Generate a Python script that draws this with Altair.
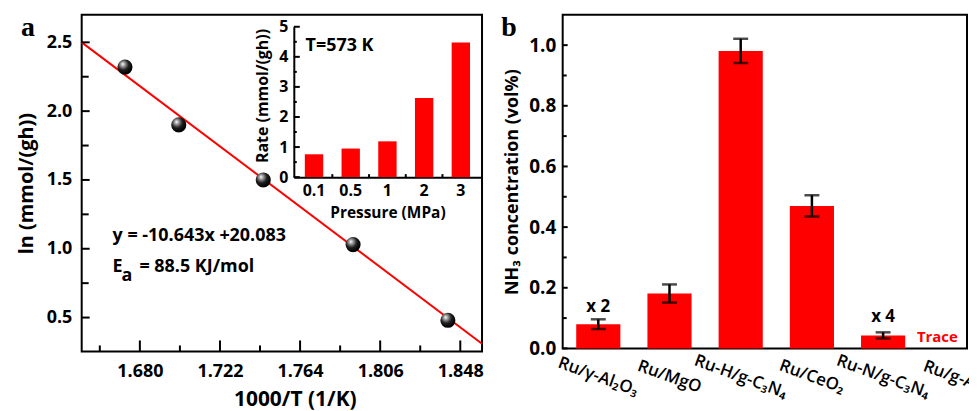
import altair as alt
import pandas as pd

# ---------------- Panel a: Arrhenius plot ----------------
inv_T = [1.6722, 1.7004, 1.7447, 1.7918, 1.8415]
ln_rate = [2.32, 1.90, 1.50, 1.03, 0.48]
fit_x = [1.6495, 1.8594]
fit_y = [2.50, 0.31]

x_major = [1.680, 1.722, 1.764, 1.806, 1.848]
x_minor = [1.659, 1.701, 1.743, 1.785, 1.827]
y_major = [0.5, 1.0, 1.5, 2.0, 2.5]
y_minor = [0.75, 1.25, 1.75, 2.25]

eq_label = ["y = -10.643x +20.083"]
ea_main = ["E"]
ea_sub = ["a"]
ea_rest = ["= 88.5 KJ/mol"]
temp_label = ["T=573 K"]

# inset
pressure = ["0.1", "0.5", "1", "2", "3"]
rate = [0.76, 0.95, 1.19, 2.63, 4.48]
inset_y_major = [0, 1, 2, 3, 4, 5]
inset_y_minor = [0.5, 1.5, 2.5, 3.5, 4.5]

# ---------------- Panel b: NH3 concentration ----------------
catalysts = ["Ru/γ-Al₂O₃", "Ru/MgO", "Ru-H/g-C₃N₄", "Ru/CeO₂", "Ru-N/g-C₃N₄", "Ru/g-AC"]
nh3 = [0.080, 0.181, 0.981, 0.470, 0.043]
nh3_err = [0.016, 0.030, 0.040, 0.035, 0.010]
b_y_major = [0.0, 0.2, 0.4, 0.6, 0.8, 1.0]
b_y_minor = [0.1, 0.3, 0.5, 0.7, 0.9]
mult_cats = ["Ru/γ-Al₂O₃", "Ru-N/g-C₃N₄"]
mult_y = [0.136, 0.103]
mult_text = ["x 2", "x 4"]
trace_cat = ["Ru/g-AC"]
trace_y = [0.037]
trace_text = ["Trace"]

FONT = "Open Sans"
RED = "#ff0000"
W1, H1 = 402, 338
W2, H2 = 406, 335

# ---------- main plot (a) ----------
xs = alt.Scale(domain=[1.6495, 1.8594], nice=False, zero=False)
ys = alt.Scale(domain=[0.254, 2.70], nice=False, zero=False)
ax_x = alt.Axis(values=x_major, format=".3f", title="1000/T (1/K)", ticks=False, tickSize=0,
                domain=False, grid=False, labelFontSize=18, labelFontWeight="bold",
                labelPadding=11, titleFontSize=21, titlePadding=8, titleX=214, labelFlush=False)
ax_y = alt.Axis(values=y_major, format=".1f", title="ln (mmol/(gh))", ticks=False, tickSize=0,
                domain=False, grid=False, labelFontSize=18, labelFontWeight="bold",
                labelPadding=10, titleFontSize=20, titlePadding=10)


def X(f):
    return alt.X(f, type="quantitative", scale=xs, axis=ax_x)


def Y(f):
    return alt.Y(f, type="quantitative", scale=ys, axis=ax_y)


grad = {"gradient": "radial", "x1": 0.35, "y1": 0.3, "x2": 0.4, "y2": 0.35, "r1": 0, "r2": 0.6,
        "stops": [{"offset": 0, "color": "#ffffff"}, {"offset": 0.25, "color": "#9a9a9a"},
                  {"offset": 0.6, "color": "#202020"}, {"offset": 1, "color": "#000000"}]}

line = alt.Chart(pd.DataFrame({"x": fit_x, "y": fit_y})).mark_line(color=RED, strokeWidth=2).encode(
    x=X("x"), y=Y("y"))
points = alt.Chart(pd.DataFrame({"x": inv_T, "y": ln_rate})).mark_circle(
    size=230, opacity=1, color=grad).encode(x=X("x"), y=Y("y"))

txt_kw = dict(font=FONT, fontWeight="bold", fontSize=18, align="left", baseline="middle", color="black")
eq = alt.Chart(pd.DataFrame({"x": [1.6657], "y": [1.094], "t": eq_label})).mark_text(**txt_kw).encode(
    x=X("x"), y=Y("y"), text="t:N")
e1 = alt.Chart(pd.DataFrame({"x": [1.6657], "y": [0.870], "t": ea_main})).mark_text(**txt_kw).encode(
    x=X("x"), y=Y("y"), text="t:N")
e2 = alt.Chart(pd.DataFrame({"x": [1.6657], "y": [0.870], "t": ea_sub})).mark_text(dx=9, dy=9, **txt_kw).encode(
    x=X("x"), y=Y("y"), text="t:N")
e3 = alt.Chart(pd.DataFrame({"x": [1.6657], "y": [0.870], "t": ea_rest})).mark_text(dx=27, **txt_kw).encode(
    x=X("x"), y=Y("y"), text="t:N")
tlab = alt.Chart(pd.DataFrame({"x": [1.7669], "y": [2.471], "t": temp_label})).mark_text(**txt_kw).encode(
    x=X("x"), y=Y("y"), text="t:N")

xtM = alt.Chart(pd.DataFrame({"v": x_major})).mark_rule(color="black", strokeWidth=2).encode(
    x=X("v"), y=alt.value(H1), y2=alt.value(H1 - 11))
xtm = alt.Chart(pd.DataFrame({"v": x_minor})).mark_rule(color="black", strokeWidth=2).encode(
    x=X("v"), y=alt.value(H1), y2=alt.value(H1 - 6))
ytM = alt.Chart(pd.DataFrame({"v": y_major})).mark_rule(color="black", strokeWidth=2).encode(
    y=Y("v"), x=alt.value(0), x2=alt.value(8))
ytm = alt.Chart(pd.DataFrame({"v": y_minor})).mark_rule(color="black", strokeWidth=2).encode(
    y=Y("v"), x=alt.value(0), x2=alt.value(7))

letter_kw = dict(font="Liberation Serif", fontSize=28, fontWeight="bold", align="center",
                 baseline="middle", color="black")
letter_a = alt.Chart(pd.DataFrame({"t": ["a"]})).mark_text(**letter_kw).encode(
    x=alt.value(-54), y=alt.value(13.5), text="t:N")

main = alt.layer(line, points, eq, e1, e2, e3, tlab, xtM, xtm, ytM, ytm, letter_a)

# ---------- inset ----------
ixs = alt.Scale(domain=pressure, range=[213, 401], paddingInner=0.5, paddingOuter=0.3)
iys = alt.Scale(domain=[0, 5], range=[163, 12], nice=False)
iax_x = alt.Axis(orient="bottom", offset=-(H1 - 163), title="Pressure (MPa)", ticks=False, tickSize=0,
                 domain=True, domainColor="black", domainWidth=2, grid=False, labelAngle=0,
                 labelFontSize=16, labelFontWeight="bold", labelPadding=5,
                 titleFontSize=15.5, titlePadding=8)
iax_y = alt.Axis(orient="left", offset=-213, values=inset_y_major, format="d", title="Rate (mmol/(gh))",
                 ticks=False, tickSize=0, domain=True, domainColor="black", domainWidth=2, grid=False,
                 labelFontSize=16, labelFontWeight="bold", labelPadding=6,
                 titleFontSize=16, titlePadding=8, titleY=81)


def IX(f, **kw):
    return alt.X(f, type="nominal", scale=ixs, axis=iax_x, sort=None, **kw)


def IY(f):
    return alt.Y(f, type="quantitative", scale=iys, axis=iax_y)


ibars = alt.Chart(pd.DataFrame({"p": pressure, "r": rate})).mark_bar(color=RED).encode(
    x=IX("p"), y=IY("r"))
iytM = alt.Chart(pd.DataFrame({"v": inset_y_major})).mark_rule(color="black", strokeWidth=2).encode(
    y=IY("v"), x=alt.value(213), x2=alt.value(219))
iytm = alt.Chart(pd.DataFrame({"v": inset_y_minor})).mark_rule(color="black", strokeWidth=2).encode(
    y=IY("v"), x=alt.value(213), x2=alt.value(216))
ixt = alt.Chart(pd.DataFrame({"p": pressure[:-1]})).mark_rule(
    color="black", strokeWidth=2, xOffset=9.2).encode(
    x=IX("p", bandPosition=1), y=alt.value(163), y2=alt.value(160))

inset = alt.layer(ibars, iytM, iytm, ixt)

left = alt.layer(main, inset).resolve_scale(x="independent", y="independent").properties(
    width=W1, height=H1)

# ---------- panel b ----------
bxs = alt.Scale(domain=catalysts, range=[0, 429], paddingInner=0.38, paddingOuter=0.19)
bys = alt.Scale(domain=[0, 1.1], nice=False)
bax_x = alt.Axis(title=None, labelAngle=20, labelAlign="center", labelBaseline="middle", labelPadding=28,
                 labelFontSize=17, labelFontWeight=600, ticks=False, tickSize=0, domain=False,
                 labelOverlap=False, grid=False)
bax_y = alt.Axis(values=b_y_major, format=".1f", title="NH₃ concentration (vol%)", ticks=False,
                 tickSize=0, domain=False, grid=False, labelFontSize=19, labelFontWeight="bold",
                 labelPadding=7, titleFontSize=18, titlePadding=7)


def BX(f):
    return alt.X(f, type="nominal", scale=bxs, axis=bax_x, sort=None)


def BY(f):
    return alt.Y(f, type="quantitative", scale=bys, axis=bax_y)


bdf = pd.DataFrame({"c": catalysts[:len(nh3)], "v": nh3, "e": nh3_err})
bdf["lo"] = bdf["v"] - bdf["e"]
bdf["hi"] = bdf["v"] + bdf["e"]

bars = alt.Chart(bdf).mark_bar(color=RED).encode(x=BX("c"), y=BY("v"))
err = alt.Chart(bdf).mark_rule(color="black", strokeWidth=2.5).encode(x=BX("c"), y=BY("lo"), y2="hi")
cap_lo = alt.Chart(bdf).mark_tick(color="black", orient="horizontal", size=15, thickness=2.5).encode(
    x=BX("c"), y=BY("lo"))
cap_hi = alt.Chart(bdf).mark_tick(color="black", orient="horizontal", size=15, thickness=2.5).encode(
    x=BX("c"), y=BY("hi"))
mult = alt.Chart(pd.DataFrame({"c": mult_cats, "y": mult_y, "t": mult_text})).mark_text(
    font=FONT, fontWeight="bold", fontSize=17, align="center", baseline="middle", color="black").encode(
    x=BX("c"), y=BY("y"), text="t:N")
trace = alt.Chart(pd.DataFrame({"c": trace_cat, "y": trace_y, "t": trace_text})).mark_text(
    font=FONT, fontWeight="bold", fontSize=15, align="center", baseline="middle", color=RED, dx=-17).encode(
    x=BX("c"), y=BY("y"), text="t:N")
bytM = alt.Chart(pd.DataFrame({"v": b_y_major})).mark_rule(color="black", strokeWidth=2).encode(
    y=BY("v"), x=alt.value(0), x2=alt.value(5))
bytm = alt.Chart(pd.DataFrame({"v": b_y_minor})).mark_rule(color="black", strokeWidth=2).encode(
    y=BY("v"), x=alt.value(0), x2=alt.value(4))
letter_b = alt.Chart(pd.DataFrame({"t": ["b"]})).mark_text(**letter_kw).encode(
    x=alt.value(-54), y=alt.value(13.5), text="t:N")

right = alt.layer(bars, err, cap_lo, cap_hi, mult, trace, bytM, bytm, letter_b).properties(
    width=W2, height=H2)

# negative right padding keeps the canvas inside the page so it is not scaled down;
# the last category label is cut at the edge, as in the original figure
chart = alt.hconcat(left, right, spacing=81, bounds="flush",
                    padding={"left": 7, "top": 4, "right": -22, "bottom": 0}).configure(
    font=FONT).configure_view(stroke="black", strokeWidth=2).configure_axis(
    labelFont=FONT, titleFont=FONT, labelColor="black", titleColor="black", titleFontWeight="bold")

chart.save("out.html", embed_options={"renderer": "svg", "actions": False})
